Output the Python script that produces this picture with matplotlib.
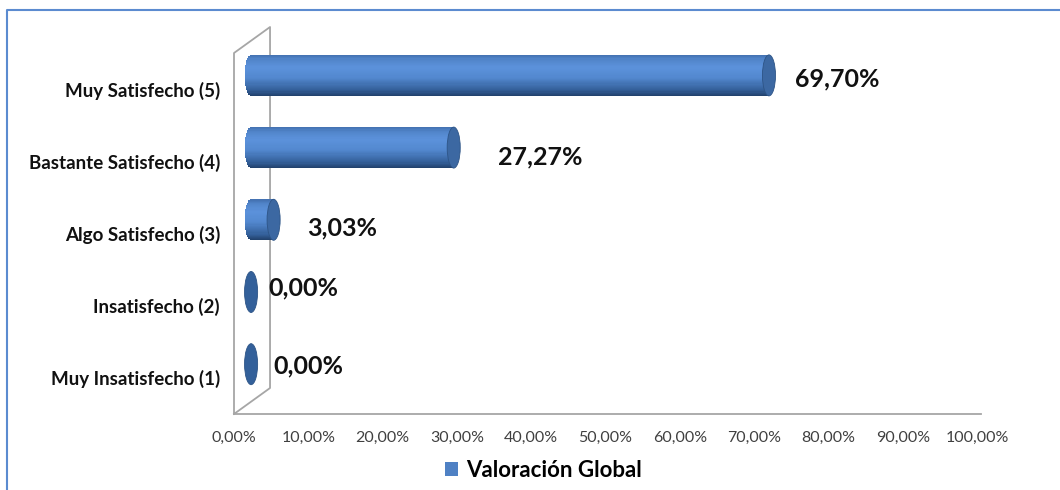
"""
Valoración Global - barras cilíndricas horizontales (estilo Excel 3D)
"""

import numpy as np
import matplotlib
matplotlib.use('Agg')
import matplotlib.pyplot as plt
from matplotlib.patches import Ellipse, Patch
from matplotlib.colors import LinearSegmentedColormap
from matplotlib.ticker import FuncFormatter

# datos
categorias = ['Muy Insatisfecho (1)', 'Insatisfecho (2)', 'Algo Satisfecho (3)',
              'Bastante Satisfecho (4)', 'Muy Satisfecho (5)']
valores = [0.00, 0.00, 3.03, 27.27, 69.70]
etiquetas = ['0,00%', '0,00%', '3,03%', '27,27%', '69,70%']
ticks_x = [0, 10, 20, 30, 40, 50, 60, 70, 80, 90, 100]
serie = 'Valoración Global'

# desplazamiento de cada etiqueta en pixeles (como lo coloca Excel)
offs_etiquetas = [(39, 12), (34, 18), (51, 6), (61, 4), (43, 10)]

plt.rcParams['font.family'] = ['Lato', 'DejaVu Sans']

fig = plt.figure(figsize=(10.6, 4.9), dpi=100)
ax = fig.add_axes([234 / 1060, 76 / 490, 743 / 1060, 361 / 490])
ax.set_xlim(0, 100)
ax.set_ylim(-0.5, 4.5)

# geometria 3D
prof_x = 4.85      # profundidad de la pared (en %)
prof_y = 0.36      # profundidad de la pared (en unidades de categoria)
x0 = 2.3           # inicio de las barras (mitad de la profundidad)
dy = 0.19          # las barras van algo por encima de la etiqueta
a = 0.88           # semieje horizontal de la tapa
b = 0.284          # semialtura del cilindro

gris = '#a6a6a6'
# pared de fondo
ax.plot([0, 0, prof_x, prof_x, 0], [-0.5, 4.5, 4.5 + prof_y, -0.5 + prof_y, -0.5],
        color=gris, lw=1.3, clip_on=False, zorder=1)
# suelo
ax.plot([0, 100.5], [-0.5, -0.5], color=gris, lw=1.3, clip_on=False, zorder=1)

cmap = LinearSegmentedColormap.from_list('cil', [
    (0.0, '#21406a'), (0.15, '#34609a'), (0.45, '#5388cf'),
    (0.7, '#5c92db'), (0.9, '#5184c9'), (1.0, '#4371b0')])

n = 36
for i, v in enumerate(valores):
    yc = i + dy
    fin = x0 + v
    if v > 0:
        for k in range(n):
            t = -1 + (k + 0.5) * 2 / n
            izq = x0 - a * np.sqrt(max(0, 1 - t * t))
            ax.barh(yc + t * b, fin - izq, left=izq, height=2 * b / n + 0.003,
                    color=cmap((k + 0.5) / n), linewidth=0, zorder=3)
        tapa = '#3c68a2'
    else:
        tapa = '#33609a'
    ax.add_patch(Ellipse((fin, yc), 2 * a, 2 * b, facecolor=tapa,
                         edgecolor='#2d5486', lw=0.6, zorder=4))
    ax.annotate(etiquetas[i], xy=(v, i), xytext=offs_etiquetas[i],
                textcoords='offset pixels', ha='left', va='center',
                fontsize=18, fontweight='bold', color='#111111', zorder=5)

ax.set_yticks(range(len(categorias)))
ax.set_yticklabels(categorias, fontsize=13.5, fontweight='bold', color='#111111')
ax.set_xticks(ticks_x)
ax.xaxis.set_major_formatter(FuncFormatter(lambda x, p: f'{x:.2f}%'.replace('.', ',')))
ax.tick_params(axis='x', length=0, pad=12, labelsize=11.5, labelcolor='#404040')
ax.tick_params(axis='y', length=0, pad=10)
for s in ax.spines.values():
    s.set_visible(False)

# leyenda
ax.legend(handles=[Patch(facecolor='#4f81c4', edgecolor='none', label=serie)],
          loc='center', bbox_to_anchor=(543 / 1060, 20 / 490),
          bbox_transform=fig.transFigure, frameon=False,
          prop={'size': 16, 'weight': 'bold'}, handlelength=0.6,
          handleheight=0.6, handletextpad=0.35)

# marco exterior azul
borde = '#5b8bd0'
fig.add_artist(plt.Line2D([7 / 1060, 7 / 1060, 1.01], [-0.01, 1 - 10 / 490, 1 - 10 / 490],
                          transform=fig.transFigure, color=borde, lw=1.5))

fig.savefig('out.png', dpi=100)
